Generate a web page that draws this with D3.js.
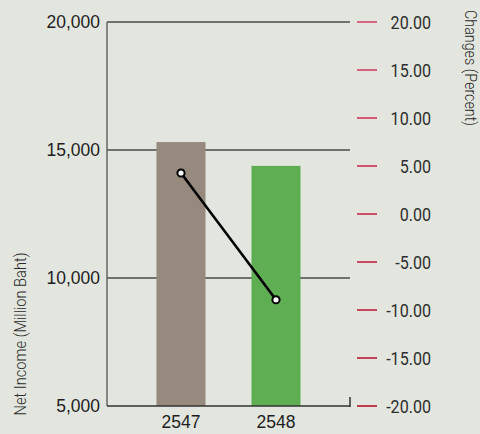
<!DOCTYPE html>
<html>
<head>
<meta charset="utf-8">
<script src="https://cdn.jsdelivr.net/npm/d3@7"></script>
<style>
  html, body { margin: 0; padding: 0; background: #e3e6de; }
  svg { display: block; }
</style>
</head>
<body>
<svg id="chart" width="480" height="434"></svg>
<script>
// values
var years = ["2547", "2548"];
var netIncome = [15310, 14380];
var changePct = [4.27, -8.93];
var barColors = ["#958a7d", "#5fae53"];
var incomeTicks = [5000, 10000, 15000, 20000];
var pctTicks = [20, 15, 10, 5, 0, -5, -10, -15, -20];

var svg = d3.select("#chart");
var plotLeft = 107, plotRight = 350, plotTop = 22, plotBottom = 406;

var x = d3.scaleBand().domain(years).range([plotLeft, plotRight])
  .paddingInner(0.484).paddingOuter(0.521);
var y = d3.scaleLinear().domain([5000, 20000]).range([plotBottom, plotTop]);
var y2 = d3.scaleLinear().domain([-20, 20]).range([plotBottom, plotTop]);
var tickColor = d3.scaleLinear().domain([20, -20]).range(["#d6466c", "#b8102c"]);
var pctFormat = function(d) { return d3.format(".2f")(d).replace("\u2212", "-"); };

// gridlines
svg.append("g").selectAll("line")
  .data(incomeTicks.filter(function(d) { return d > 5000; }))
  .enter().append("line")
    .attr("x1", plotLeft).attr("x2", plotRight)
    .attr("y1", function(d) { return y(d); })
    .attr("y2", function(d) { return y(d); })
    .style("stroke", "#4a4a48").style("stroke-width", 1.5);

// bars
svg.append("g").selectAll("rect")
  .data(years)
  .enter().append("rect")
    .attr("x", function(d) { return x(d); })
    .attr("width", x.bandwidth())
    .attr("y", function(d, i) { return y(netIncome[i]); })
    .attr("height", function(d, i) { return plotBottom - y(netIncome[i]); })
    .style("fill", function(d, i) { return barColors[i]; });

// left axis + bottom line
svg.append("line").attr("x1", plotLeft).attr("x2", plotLeft).attr("y1", plotTop).attr("y2", plotBottom)
  .style("stroke", "#666").style("stroke-width", 1.5);
svg.append("line").attr("x1", plotLeft).attr("x2", plotRight).attr("y1", plotBottom).attr("y2", plotBottom)
  .style("stroke", "#333").style("stroke-width", 1.5);
svg.append("line").attr("x1", plotRight).attr("x2", plotRight).attr("y1", plotBottom - 9).attr("y2", plotBottom + 1)
  .style("stroke", "#333").style("stroke-width", 1.5);

svg.append("g").selectAll("text")
  .data(incomeTicks)
  .enter().append("text")
    .attr("x", 100)
    .attr("y", function(d) { return y(d) + 6; })
    .attr("text-anchor", "end")
    .style("font-family", "Liberation Sans, Arial, sans-serif")
    .style("font-size", "17.5px")
    .style("fill", "#1e1e1e")
    .text(d3.format(","));

svg.append("g").selectAll("text")
  .data(years)
  .enter().append("text")
    .attr("x", function(d) { return x(d) + x.bandwidth() / 2; })
    .attr("y", 428)
    .attr("text-anchor", "middle")
    .style("font-family", "Liberation Sans, Arial, sans-serif")
    .style("font-size", "17.5px")
    .style("fill", "#1e1e1e")
    .text(function(d) { return d; });

// right axis ticks
svg.append("g").selectAll("line")
  .data(pctTicks)
  .enter().append("line")
    .attr("x1", 357).attr("x2", 377)
    .attr("y1", function(d) { return y2(d); })
    .attr("y2", function(d) { return y2(d); })
    .style("stroke", function(d) { return tickColor(d); })
    .style("stroke-width", 1.6);

svg.append("g").selectAll("text")
  .data(pctTicks)
  .enter().append("text")
    .attr("transform", function(d) {
      return "translate(431," + (y2(d) + 6.5) + ") scale(0.87,1)";
    })
    .attr("text-anchor", "end")
    .style("font-family", "Roboto, sans-serif")
    .style("font-size", "18.5px")
    .style("fill", "#2e2e2e")
    .text(pctFormat);

// change line
var line = d3.line()
  .x(function(d, i) { return x(years[i]) + x.bandwidth() / 2; })
  .y(function(d) { return y2(d); });

svg.append("path")
  .datum(changePct)
  .attr("d", line)
  .style("fill", "none").style("stroke", "#000").style("stroke-width", 2.6);

svg.append("g").selectAll("circle")
  .data(changePct)
  .enter().append("circle")
    .attr("cx", function(d, i) { return x(years[i]) + x.bandwidth() / 2; })
    .attr("cy", function(d) { return y2(d); })
    .attr("r", 3.6)
    .style("fill", "#fff").style("stroke", "#000").style("stroke-width", 2);

// axis titles
svg.append("text")
  .attr("transform", "translate(26,334) rotate(-90)")
  .attr("text-anchor", "middle")
  .attr("textLength", 163).attr("lengthAdjust", "spacingAndGlyphs")
  .style("font-family", "Roboto, sans-serif")
  .style("font-size", "17px")
  .style("font-weight", 300)
  .style("fill", "#2a2a2a")
  .text("Net Income (Million Baht)");

svg.append("text")
  .attr("transform", "translate(465,68) rotate(90)")
  .attr("text-anchor", "middle")
  .attr("textLength", 116).attr("lengthAdjust", "spacingAndGlyphs")
  .style("font-family", "Roboto, sans-serif")
  .style("font-size", "17px")
  .style("font-weight", 300)
  .style("fill", "#2a2a2a")
  .text("Changes (Percent)");
</script>
</body>
</html>
